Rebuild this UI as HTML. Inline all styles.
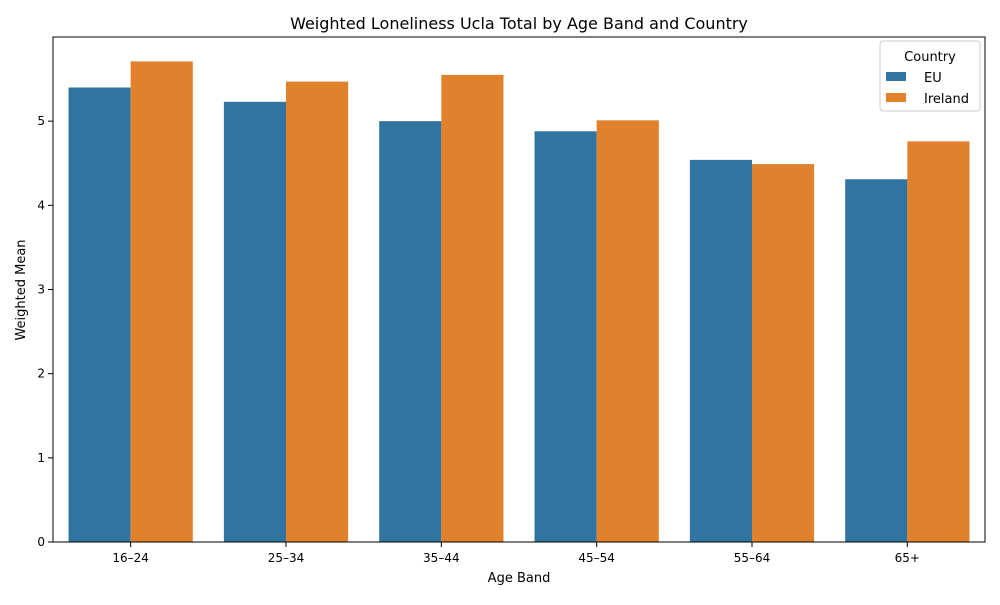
<!DOCTYPE html>
<html><head><meta charset="utf-8"><style>
body{margin:0;background:#fff;font-family:"Liberation Sans","DejaVu Sans",sans-serif;}
svg text{font-family:"DejaVu Sans","Liberation Sans",sans-serif;}
</style></head><body>
<svg id="chart" width="1000" height="600">
<text x="519" y="29" font-size="16" text-anchor="middle">Weighted Loneliness Ucla Total by Age Band and Country</text>
<g id="bars"></g>
<g id="axes"></g>
<rect x="53" y="37" width="932" height="505" fill="none" stroke="#000" stroke-width="1"/>
<text x="519" y="582" font-size="13" text-anchor="middle">Age Band</text>
<text transform="translate(25,290) rotate(-90)" font-size="13" text-anchor="middle">Weighted Mean</text>
<g>
<rect x="880" y="41" width="100" height="70" rx="3" fill="#fff" stroke="#ccc"/>
<text x="930" y="61" font-size="13" text-anchor="middle">Country</text>
<g><rect x="886" y="72" width="20" height="9" fill="#3274a1"/><text x="924" y="82" font-size="13">EU</text></g>
<g><rect x="886" y="93" width="20" height="9" fill="#e1812c"/><text x="924" y="103" font-size="13">Ireland</text></g>
</g>
</svg>
<script>
const categories=["16–24","25–34","35–44","45–54","55–64","65+"];
const euValues=[5.40,5.23,5.00,4.88,4.54,4.31];
const irelandValues=[5.71,5.47,5.55,5.01,4.49,4.76];
const yTicks=[0,1,2,3,4,5];
const L=53,R=985,T=37,B=542,YMAX=6.0;
const ns="http://www.w3.org/2000/svg";
const y=v=>B-(v/YMAX)*(B-T);
const band=(R-L)/categories.length;
const xc=i=>L+band*(i+0.5);
const bars=document.getElementById('bars'),axes=document.getElementById('axes');
function mk(t,a,p){const e=document.createElementNS(ns,t);for(const k in a)e.setAttribute(k,a[k]);p.appendChild(e);return e;}
const bw=band*0.4;
categories.forEach((c,i)=>{
 [[euValues,"#3274a1","eu",-1],[irelandValues,"#e1812c","ireland",0]].forEach(([arr,col,n,off])=>{
  const r=mk('rect',{x:xc(i)+off*bw,y:y(arr[i]),width:bw,height:B-y(arr[i]),fill:col},bars);
  
  
 });
 mk('line',{x1:xc(i),x2:xc(i),y1:B,y2:B+5,stroke:'#000'},axes);
 const t=mk('text',{x:xc(i),y:B+20,'font-size':12,'text-anchor':'middle'},axes);t.textContent=c;
 
 
});
yTicks.forEach(v=>{
 mk('line',{x1:L-5,x2:L,y1:y(v),y2:y(v),stroke:'#000'},axes);
 const t=mk('text',{x:L-8,y:y(v)+4,'font-size':12,'text-anchor':'end'},axes);t.textContent=v;
 
 
});
</script>
</body></html>
